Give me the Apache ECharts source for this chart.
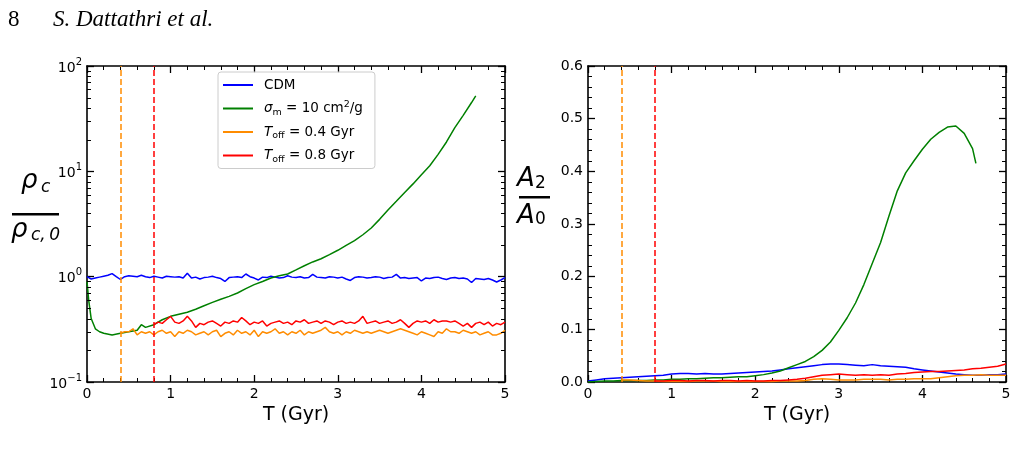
<!DOCTYPE html>
<html>
<head>
    <meta charset="utf-8"/>
    <title>Dattathri fig</title>
    <script type="text/javascript" src="https://cdn.jsdelivr.net/npm/echarts@6/dist/echarts.min.js"></script>
    <style>
        html, body { margin: 0; padding: 0; background: #fff; }
        #main { width: 1016px; height: 471px; }
    </style>
</head>
<body>
<div id="main"></div>
<script type="text/javascript">
    // series names (legend order)
    const names = ['CDM', 'sigma', 'Toff04', 'Toff08'];
    const colors = ['#0000ff', '#008000', '#ff8c00', '#ff0000'];
    const xTicks = [0, 1, 2, 3, 4, 5];
    const tOff = [0.4, 0.8];

    // left panel: rho_c / rho_c,0 (log axis)
    const dtL = 0.05;
    const cdmLeft = [
        1.00, 0.95, 0.97, 0.99, 1.01, 1.03, 1.07, 1.00, 0.94, 1.00,
        1.02, 1.01, 1.00, 1.03, 1.00, 0.98, 1.01, 0.99, 0.97, 1.01,
        1.00, 0.99, 1.00, 0.97, 1.08, 0.97, 0.99, 0.95, 0.98, 0.99,
        1.01, 0.98, 0.96, 0.90, 0.98, 0.99, 1.00, 0.98, 1.06, 1.00,
        0.97, 0.93, 0.99, 0.98, 1.01, 0.99, 0.97, 0.98, 1.02, 0.99,
        0.98, 1.00, 0.97, 0.98, 1.05, 0.99, 0.98, 0.97, 1.00, 0.99,
        0.97, 0.99, 0.95, 0.92, 0.98, 1.00, 0.99, 0.97, 0.98, 1.00,
        0.99, 0.96, 0.98, 0.99, 1.05, 0.97, 0.98, 0.96, 0.97, 0.98,
        0.91, 0.97, 0.96, 0.98, 0.99, 0.96, 0.94, 0.97, 0.98, 0.96,
        0.97, 0.95, 0.88, 0.96, 0.95, 0.94, 0.96, 0.93, 0.89, 0.93,
        0.98
    ];
    const sigmaLeftT = [0, 0.02, 0.05, 0.1, 0.15, 0.2, 0.3, 0.4, 0.5, 0.6, 0.65, 0.7, 0.8, 0.9,
        1.0, 1.1, 1.2, 1.3, 1.4, 1.5, 1.6, 1.7, 1.8, 1.9, 2.0, 2.1, 2.2, 2.3, 2.4, 2.5,
        2.6, 2.7, 2.8, 2.9, 3.0, 3.1, 3.2, 3.3, 3.4, 3.5, 3.6, 3.7, 3.8, 3.9, 4.0,
        4.1, 4.2, 4.3, 4.4, 4.5, 4.6, 4.65];
    const sigmaLeft = [0.9, 0.6, 0.40, 0.32, 0.30, 0.29, 0.28, 0.29, 0.30, 0.31, 0.35, 0.33, 0.35, 0.39,
        0.42, 0.44, 0.46, 0.49, 0.53, 0.57, 0.61, 0.65, 0.70, 0.77, 0.84, 0.90, 0.97, 1.02, 1.06, 1.16,
        1.27, 1.38, 1.48, 1.62, 1.78, 1.98, 2.2, 2.5, 2.9, 3.5, 4.3, 5.2, 6.3, 7.6, 9.3,
        11.3, 14.5, 19, 26, 34, 45, 52];
    const toff04Left = [
        0.29, 0.30, 0.30, 0.32, 0.28, 0.30, 0.29, 0.30, 0.28, 0.30,
        0.31, 0.29, 0.30, 0.27, 0.30, 0.29, 0.31, 0.30, 0.28, 0.29,
        0.30, 0.28, 0.30, 0.31, 0.27, 0.29, 0.30, 0.28, 0.31, 0.29,
        0.30, 0.28, 0.31, 0.27, 0.30, 0.29, 0.30, 0.32, 0.29, 0.30,
        0.28, 0.30, 0.29, 0.31, 0.28, 0.30, 0.29, 0.30, 0.31, 0.33,
        0.30, 0.29, 0.30, 0.28, 0.30, 0.29, 0.31, 0.30, 0.29, 0.30,
        0.29, 0.30, 0.31, 0.30, 0.29, 0.30, 0.31, 0.32, 0.31, 0.30,
        0.29, 0.28, 0.30, 0.29, 0.28, 0.27, 0.30, 0.29, 0.32, 0.30,
        0.30, 0.29, 0.31, 0.30, 0.29, 0.30, 0.28, 0.29, 0.30, 0.28,
        0.28, 0.29, 0.31
    ];
    const toff08Left = [
        0.35, 0.37, 0.36, 0.39, 0.42, 0.37, 0.36, 0.38, 0.42, 0.38,
        0.33, 0.36, 0.35, 0.37, 0.38, 0.36, 0.34, 0.37, 0.36, 0.38,
        0.37, 0.41, 0.38, 0.35, 0.37, 0.36, 0.38, 0.34, 0.36, 0.37,
        0.38, 0.36, 0.37, 0.35, 0.38, 0.37, 0.39, 0.36, 0.37, 0.38,
        0.36, 0.38, 0.37, 0.35, 0.37, 0.38, 0.36, 0.37, 0.36, 0.38,
        0.42, 0.36, 0.37, 0.38, 0.36, 0.37, 0.38, 0.36, 0.37, 0.39,
        0.36, 0.33, 0.36, 0.38, 0.37, 0.38, 0.36, 0.39, 0.37, 0.38,
        0.38, 0.37, 0.38, 0.36, 0.34, 0.36, 0.33, 0.36, 0.37, 0.35,
        0.37, 0.34, 0.36, 0.35, 0.37
    ];

    // right panel: A2 / A0
    const dtR = 0.1;
    const cdmRight = [
        0.002, 0.004, 0.006, 0.007, 0.008, 0.009, 0.010, 0.011, 0.012, 0.013,
        0.015, 0.016, 0.016, 0.015, 0.016, 0.015, 0.015, 0.016, 0.017, 0.018,
        0.019, 0.020, 0.021, 0.023, 0.025, 0.027, 0.029, 0.031, 0.033, 0.034,
        0.034, 0.033, 0.032, 0.031, 0.033, 0.031, 0.030, 0.029, 0.028, 0.025,
        0.023, 0.021, 0.019, 0.017, 0.015, 0.014, 0.013, 0.013, 0.014, 0.014,
        0.015
    ];
    const sigmaRight = [
        0.000, 0.001, 0.002, 0.002, 0.003, 0.003, 0.003, 0.003, 0.004, 0.004,
        0.005, 0.005, 0.006, 0.006, 0.007, 0.008, 0.008, 0.009, 0.010, 0.010,
        0.012, 0.014, 0.017, 0.021, 0.027, 0.033, 0.039, 0.048, 0.060, 0.076,
        0.098, 0.122, 0.150, 0.185, 0.225, 0.265, 0.315, 0.363, 0.397, 0.420,
        0.442, 0.461, 0.474, 0.484, 0.486, 0.472, 0.443
    ];
    const sigmaRightEnd = [4.64, 0.415];
    const toff04Right = [
        0.004, 0.004, 0.003, 0.002, 0.002, 0.001, 0.001, 0.001, 0.001, 0.002,
        0.002, 0.002, 0.001, 0.001, 0.001, 0.001, 0.001, 0.001, 0.001, 0.002,
        0.002, 0.002, 0.003, 0.005, 0.006, 0.005, 0.004, 0.004, 0.004, 0.005,
        0.005, 0.005, 0.004, 0.005, 0.005, 0.006, 0.006, 0.006, 0.008, 0.010,
        0.012, 0.013, 0.013, 0.014, 0.013, 0.013, 0.013
    ];
    const toff08Right = [
        0.002, 0.002, 0.003, 0.003, 0.002, 0.003, 0.003, 0.002, 0.003, 0.003,
        0.002, 0.003, 0.002, 0.002, 0.003, 0.003, 0.004, 0.005, 0.007, 0.010,
        0.013, 0.014, 0.015, 0.014, 0.013, 0.014, 0.013, 0.014, 0.013, 0.015,
        0.016, 0.018, 0.019, 0.020, 0.020, 0.021, 0.022, 0.023, 0.025, 0.026,
        0.028, 0.030, 0.034
    ];

    function pairs(t0, dt, vals) {
        return vals.map(function (v, i) { return [+(t0 + i * dt).toFixed(3), v]; });
    }

    const legendText = {
        CDM: 'CDM',
        sigma: '{i|σ}{sub|m}{n| = 10 cm}{sup|2}{n|/g}',
        Toff04: '{i|T}{sub|off}{n| = 0.4 Gyr}',
        Toff08: '{i|T}{sub|off}{n| = 0.8 Gyr}'
    };

    const font = 'DejaVu Sans';
    const black = '#000';

    function xAxisCfg(grid, top) {
        return {
            gridIndex: grid, type: 'value', min: 0, max: 5, interval: 1,
            position: top ? 'top' : 'bottom',
            name: top ? '' : 'T (Gyr)', nameLocation: 'middle', nameGap: 22,
            nameTextStyle: {fontFamily: font, fontSize: 19, color: black},
            axisLine: {show: true, onZero: false, lineStyle: {color: black, width: 1.6}},
            axisTick: {show: true, inside: true, length: 7, lineStyle: {color: black, width: 1.3}},
            minorTick: {show: true, splitNumber: 5, length: 4, lineStyle: {color: black, width: 1}},
            axisLabel: {show: !top, fontFamily: font, fontSize: 14, color: black, margin: 5},
            splitLine: {show: false}, minorSplitLine: {show: false}
        };
    }

    const logTicks = {
        axisLine: {show: true, onZero: false, lineStyle: {color: black, width: 1.6}},
        axisTick: {show: true, inside: true, length: 7, lineStyle: {color: black, width: 1.3}},
        splitLine: {show: false}
    };

    function yLog(right) {
        return Object.assign({
            gridIndex: 0, type: 'log', logBase: 10, min: 0.1, max: 100,
            position: right ? 'right' : 'left',
            axisLabel: {
                show: !right, margin: 5, color: black,
                formatter: function (v) {
                    const e = Math.round(Math.log10(v));
                    return '{b|10}{s|' + (e < 0 ? '\u2212' + (-e) : e) + '}';
                },
                rich: {
                    b: {fontFamily: font, fontSize: 14, color: black, lineHeight: 18, verticalAlign: 'bottom'},
                    s: {fontFamily: font, fontSize: 10, color: black, lineHeight: 18, verticalAlign: 'top'}
                }
            }
        }, logTicks);
    }

    function yLin(right) {
        return {
            gridIndex: 1, type: 'value', min: 0, max: 0.6, interval: 0.1,
            position: right ? 'right' : 'left',
            axisLine: {show: true, onZero: false, lineStyle: {color: black, width: 1.6}},
            axisTick: {show: true, inside: true, length: 7, lineStyle: {color: black, width: 1.3}},
            minorTick: {show: true, splitNumber: 5, length: 4, lineStyle: {color: black, width: 1}},
            axisLabel: {show: !right, fontFamily: font, fontSize: 14, color: black, margin: 5,
                formatter: function (v) { return v.toFixed(1); }},
            splitLine: {show: false}, minorSplitLine: {show: false}
        };
    }

    function lineSeries(idx, xi, yi, data, markX) {
        const s = {
            name: names[idx], type: 'line', xAxisIndex: xi, yAxisIndex: yi,
            data: data, symbol: 'none', showSymbol: false, smooth: false,
            lineStyle: {color: colors[idx], width: 1.5}, itemStyle: {color: colors[idx]},
            z: 2 + idx, animation: false, silent: true
        };
        if (markX !== undefined) {
            s.markLine = {
                silent: true, symbol: ['none', 'none'], animation: false,
                label: {show: false},
                lineStyle: {color: colors[idx], width: 1.5, type: [6, 3]},
                data: [{xAxis: markX}]
            };
        }
        return s;
    }

    const chart = echarts.init(document.getElementById('main'), null, {renderer: 'canvas'});

    const sigmaRightData = pairs(0, dtR, sigmaRight).concat([sigmaRightEnd]);
    const sigmaLeftData = sigmaLeftT.map(function (t, i) { return [t, sigmaLeft[i]]; });

    chart.setOption({
        animation: false,
        backgroundColor: '#fff',
        textStyle: {fontFamily: font},
        grid: [
            {left: 87, right: 511, top: 66, bottom: 89},
            {left: 588, right: 10, top: 66, bottom: 89}
        ],
        xAxis: [xAxisCfg(0, false), xAxisCfg(0, true), xAxisCfg(1, false), xAxisCfg(1, true)],
        yAxis: [yLog(false), yLog(true), yLin(false), yLin(true)],
        legend: {
            data: names, orient: 'vertical', left: 218, top: 72,
            icon: 'rect', itemWidth: 30, itemHeight: 2, itemGap: 5.5,
            padding: [4, 12, 4, 5],
            borderColor: '#cccccc', borderWidth: 1, borderRadius: 3,
            backgroundColor: 'rgba(255,255,255,0.8)',
            selectedMode: false,
            formatter: function (n) { return legendText[n]; },
            textStyle: {
                fontFamily: font, fontSize: 13.5, color: black, lineHeight: 18, padding: [0, 0, 0, 6],
                rich: {
                    n: {fontFamily: font, fontSize: 13.5, color: black, lineHeight: 18},
                    i: {fontFamily: font, fontSize: 13.5, fontStyle: 'italic', color: black, lineHeight: 18},
                    sub: {fontFamily: font, fontSize: 9.5, color: black, lineHeight: 18, verticalAlign: 'bottom'},
                    sup: {fontFamily: font, fontSize: 9.5, color: black, lineHeight: 18, verticalAlign: 'top'}
                }
            }
        },
        series: [
            lineSeries(0, 0, 0, pairs(0, dtL, cdmLeft)),
            lineSeries(1, 0, 0, sigmaLeftData),
            lineSeries(2, 0, 0, pairs(tOff[0], dtL, toff04Left), tOff[0]),
            lineSeries(3, 0, 0, pairs(tOff[1], dtL, toff08Left), tOff[1]),
            lineSeries(0, 2, 2, pairs(0, dtR, cdmRight)),
            lineSeries(1, 2, 2, sigmaRightData),
            lineSeries(2, 2, 2, pairs(tOff[0], dtR, toff04Right), tOff[0]),
            lineSeries(3, 2, 2, pairs(tOff[1], dtR, toff08Right), tOff[1])
        ]
    });

    // log minor ticks (2..9 x 10^n) on both sides of the left panel
    const minorVals = [];
    [0.1, 1, 10].forEach(function (d) {
        for (let k = 2; k <= 9; k++) minorVals.push(+(k * d).toFixed(3));
    });
    const x0 = chart.convertToPixel({xAxisIndex: 0}, 0);
    const x1 = chart.convertToPixel({xAxisIndex: 0}, 5);
    const graphics = [];
    minorVals.forEach(function (v) {
        const y = Math.round(chart.convertToPixel({yAxisIndex: 0}, v)) + 0.5;
        graphics.push({type: 'line', silent: true, z: 10,
            shape: {x1: x0, y1: y, x2: x0 + 4, y2: y}, style: {stroke: black, lineWidth: 1}});
        graphics.push({type: 'line', silent: true, z: 10,
            shape: {x1: x1 - 4, y1: y, x2: x1, y2: y}, style: {stroke: black, lineWidth: 1}});
    });

    const serif = 'Liberation Serif';
    const mathFont = 'italic 26px "DejaVu Sans"';
    const subFont = 'italic 17px "DejaVu Sans"';
    graphics.push(
        {type: 'text', left: 8, top: 8, style: {text: '8', font: '23px "' + serif + '"', fill: black}},
        {type: 'text', left: 53, top: 8, style: {text: 'S. Dattathri et al.', font: 'italic 23px "' + serif + '"', fill: black}},
        // rho_c / rho_c,0
        {type: 'text', x: 21, y: 181, style: {text: 'ρ', font: mathFont, fill: black, verticalAlign: 'middle'}},
        {type: 'text', x: 41, y: 188, style: {text: 'c', font: subFont, fill: black, verticalAlign: 'middle'}},
        {type: 'rect', shape: {x: 12, y: 213, width: 47, height: 2.5}, style: {fill: black}},
        {type: 'text', x: 11, y: 230, style: {text: 'ρ', font: mathFont, fill: black, verticalAlign: 'middle'}},
        {type: 'text', x: 31, y: 236, style: {text: 'c,\u20090', font: subFont, fill: black, verticalAlign: 'middle'}},
        // A2 / A0
        {type: 'text', x: 517, y: 179, style: {text: 'A', font: mathFont, fill: black, verticalAlign: 'middle'}},
        {type: 'text', x: 535, y: 184, style: {text: '2', font: '17px "DejaVu Sans"', fill: black, verticalAlign: 'middle'}},
        {type: 'rect', shape: {x: 519, y: 196, width: 31, height: 2.5}, style: {fill: black}},
        {type: 'text', x: 517, y: 216, style: {text: 'A', font: mathFont, fill: black, verticalAlign: 'middle'}},
        {type: 'text', x: 535, y: 220, style: {text: '0', font: '17px "DejaVu Sans"', fill: black, verticalAlign: 'middle'}}
    );
    chart.setOption({graphic: graphics});
</script>
</body>
</html>
